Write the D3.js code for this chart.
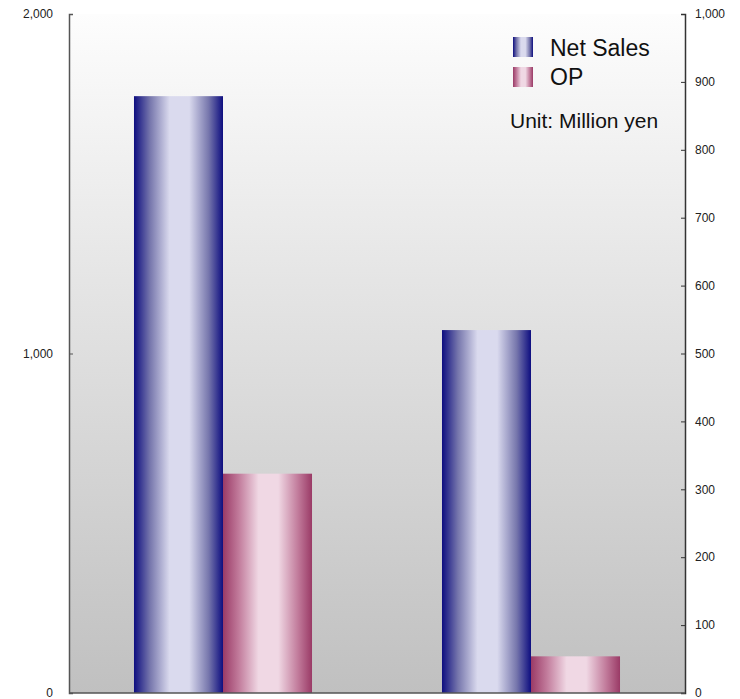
<!DOCTYPE html>
<html><head><meta charset="utf-8">
<script src="https://cdn.jsdelivr.net/npm/d3@7"></script>
<style>body{margin:0;background:#fff;}svg{display:block;font-family:"Liberation Sans",Arial,sans-serif;}</style>
</head><body>
<div id="chart"></div>
<script>
const categories = ["FY1", "FY2"];
const netSales = [1758, 1069];
const op = [323, 54];
const leftTicks = [0, 1000, 2000];
const rightTicks = [0, 100, 200, 300, 400, 500, 600, 700, 800, 900, 1000];
const seriesNames = ["Net Sales", "OP"];

const W = 740, H = 699;
const m = {top: 14, right: 55, bottom: 6, left: 69};
const svg = d3.select("#chart").append("svg").attr("width", W).attr("height", H);
const defs = svg.append("defs");

const bg = defs.append("linearGradient").attr("id","bg").attr("x1",0).attr("x2",0).attr("y1",0).attr("y2",1);
bg.append("stop").attr("offset","0%").attr("stop-color","#fdfdfd");
bg.append("stop").attr("offset","100%").attr("stop-color","#c0c0c0");

function barGrad(id, edge, mid, center){
  const g = defs.append("linearGradient").attr("id",id).attr("x1",0).attr("x2",1).attr("y1",0).attr("y2",0);
  g.append("stop").attr("offset","0%").attr("stop-color",edge);
  g.append("stop").attr("offset","18%").attr("stop-color",mid);
  g.append("stop").attr("offset","40%").attr("stop-color",center);
  g.append("stop").attr("offset","62%").attr("stop-color",center);
  g.append("stop").attr("offset","84%").attr("stop-color",mid);
  g.append("stop").attr("offset","100%").attr("stop-color",edge);
}
barGrad("gNS", "#0e0e80", "#7676ac", "#dadaee");
barGrad("gOP", "#9a3a66", "#c27c9c", "#f0d8e4");

const iw = W - m.left - m.right, ih = H - m.top - m.bottom;
const g = svg.append("g").attr("transform", `translate(${m.left},${m.top})`);
g.append("rect").attr("width", iw).attr("height", ih).attr("fill","url(#bg)");

const x0 = d3.scaleBand().domain(categories).range([0, iw]).paddingInner(0).paddingOuter(0);
const x1 = d3.scaleBand().domain(seriesNames).range([0, x0.bandwidth()]).paddingInner(0).paddingOuter(0.73);
const yL = d3.scaleLinear().domain([0, 2000]).range([ih, 0]);
const yR = d3.scaleLinear().domain([0, 1000]).range([ih, 0]);

g.selectAll(".ns").data(categories).join("rect")
  .attr("x", d => x0(d) + x1("Net Sales"))
  .attr("y", (d,i) => yL(netSales[i]))
  .attr("width", x1.bandwidth())
  .attr("height", (d,i) => ih - yL(netSales[i]))
  .attr("fill","url(#gNS)");
g.selectAll(".op").data(categories).join("rect")
  .attr("x", d => x0(d) + x1("OP"))
  .attr("y", (d,i) => yR(op[i]))
  .attr("width", x1.bandwidth())
  .attr("height", (d,i) => ih - yR(op[i]))
  .attr("fill","url(#gOP)");

const fmt = d3.format(",");
const la = g.append("g").call(d3.axisRight(yL).tickValues(leftTicks).tickSize(4).tickFormat(""));
la.select(".domain").attr("stroke","#555").attr("stroke-width",1.5);
la.selectAll(".tick line").attr("stroke","#555");
g.selectAll(".ltl").data(leftTicks).join("text")
  .attr("x", -16).attr("y", d => yL(d)).attr("dy","0.35em")
  .attr("text-anchor","end").attr("font-size",12).attr("fill","#222").text(d => fmt(d));

const ra = g.append("g").attr("transform",`translate(${iw},0)`).call(d3.axisLeft(yR).tickValues(rightTicks).tickSize(4).tickFormat(""));
ra.select(".domain").attr("stroke","#333").attr("stroke-width",1.5);
ra.selectAll(".tick line").attr("stroke","#333");
g.selectAll(".rtl").data(rightTicks).join("text")
  .attr("x", iw + 10).attr("y", d => yR(d)).attr("dy","0.35em")
  .attr("text-anchor","start").attr("font-size",12).attr("fill","#222").text(d => fmt(d));

g.append("line").attr("x1",0).attr("x2",iw).attr("y1",ih).attr("y2",ih).attr("stroke","#555").attr("stroke-width",1.5);

const leg = svg.append("g");
const fills = ["url(#gNS)","url(#gOP)"];
seriesNames.forEach((n,i) => {
  leg.append("rect").attr("x",513).attr("y",37 + i*30).attr("width",20).attr("height",20).attr("fill",fills[i]);
  leg.append("text").attr("x",550).attr("y",56 + i*29).attr("font-size",23).attr("fill","#111").text(n);
});
leg.append("text").attr("x",510).attr("y",128).attr("font-size",21).attr("fill","#111").text("Unit: Million yen");
</script>
</body></html>
